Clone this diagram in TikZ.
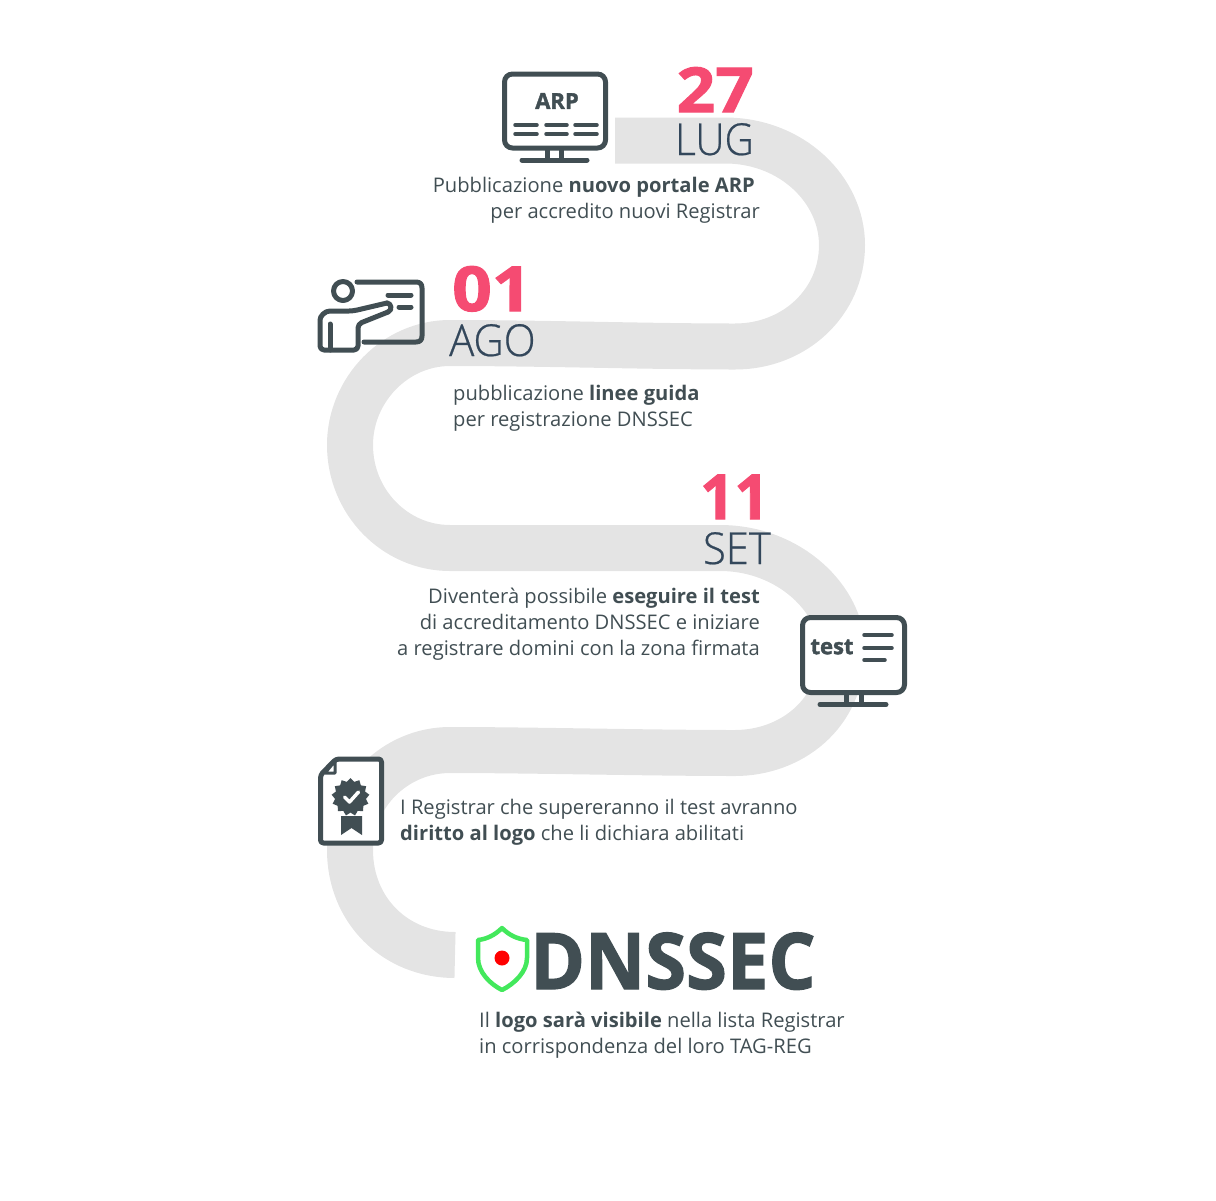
\documentclass[tikz,border=0pt]{standalone}
\usepackage{fontspec}
\usetikzlibrary{shapes.geometric}
\setmainfont{Open Sans}
\newfontfamily\lightfont[FakeBold=0.5]{Open Sans Light}
\newfontfamily\heavyfont[FakeBold=1.6]{Open Sans Bold}
\definecolor{roadgray}{HTML}{E4E4E4}
\definecolor{icongray}{HTML}{414E53}
\definecolor{datepink}{HTML}{F54B72}
\definecolor{monthblue}{HTML}{33475B}
\definecolor{shieldgreen}{HTML}{43E85C}
\tikzset{
    road/.style={draw=roadgray,line width=46pt},
    icon/.style={draw=icongray,line width=5pt,line cap=round,line join=round},
    icontext/.style={text=icongray,font=\heavyfont\fontsize{22}{22}\selectfont,inner sep=0pt},
    daynum/.style={text=datepink,font=\heavyfont\fontsize{62}{62}\selectfont,inner sep=0pt},
    month/.style={text=monthblue,font=\lightfont\fontsize{44}{44}\selectfont,inner sep=0pt},
    blurb/.style={text=icongray,font=\fontsize{20.15}{26}\selectfont,inner sep=0pt}
}
\begin{document}
\begin{tikzpicture}
        [x=1pt,y=-1pt]
        \useasboundingbox (0,0) rectangle (1216,1200);

        \draw[road] (615,140.5) -- (725,140.5)
            .. controls (792,140.5) and (842,190) .. (842,245)
            .. controls (842,302) and (795,346.5) .. (735,346.5)
            .. controls (650,346.5) and (540,343) .. (450,343)
            .. controls (395,343) and (350,390) .. (350,445)
            .. controls (350,502) and (395,548) .. (450,548)
            -- (720,548)
            .. controls (790,548) and (842,600) .. (842,650)
            .. controls (842,715) and (790,753) .. (735,753)
            .. controls (650,753) and (530,750) .. (450,750)
            .. controls (395,750) and (350,795) .. (350,850)
            .. controls (350,910) and (395,955) .. (455,955);

        % monitor ARP
        \draw[icon,fill=white,rounded corners=8pt] (504.5,74) rectangle (605.5,148);
        \draw[icon] (547,150) -- (547,159) (561,150) -- (561,159) (522,160) -- (587,160);
        \node[icontext] (arp) at (557,101) {ARP};
        \foreach \xa/\xb in {515/537,546/567,575/597}
            \draw[icon,line width=3.5pt] (\xa,125) -- (\xb,125) (\xa,134) -- (\xb,134);

        % presenter
        \draw[icon] (357,282) -- (416,282)
            .. controls (420,282) and (422,284) .. (422,288) -- (422,336)
            .. controls (422,340) and (420,342) .. (416,342) -- (364,342);
        \draw[icon] (343,291) circle (9.5);
        \draw[icon] (388,295) -- (411,295) (399,307) -- (411,307);
        \draw[icon,rounded corners=4pt] (387,303) -- (353,311) -- (334,311)
            .. controls (325,311) and (320,316) .. (320,324) -- (320,350) -- (358,350) -- (358,324) -- (388,312);
        \draw[icon] (387,303) .. controls (391,303) and (393,310) .. (388,312);
        \draw[icon] (330,324) -- (330,350);

        % monitor test
        \draw[icon,fill=white,rounded corners=8pt] (802.5,617.5) rectangle (904.5,692.5);
        \draw[icon] (846,695) -- (846,703) (861,695) -- (861,703) (820,704.5) -- (886,704.5);
        \node[icontext] (testlabel) at (832,647) {test};
        \draw[icon,line width=3.5pt] (864,635) -- (892,635) (864,648) -- (892,648) (864,660) -- (885,660);

        % certificate
        \draw[icon,fill=white,rounded corners=3pt] (336,759) -- (381.5,759) -- (381.5,843) -- (320.5,843) -- (320.5,775) -- cycle;
        \draw[icon,line width=3pt,fill=white] (335,761) -- (335,773) -- (325,773) -- cycle;
        \node[star,star points=13,star point ratio=1.22,fill=icongray,minimum size=38pt,inner sep=0pt] (seal) at (350.5,797) {};
        \draw[white,line width=3.5pt,line cap=round,line join=round] (344.5,797) -- (349.5,802) -- (358.5,792);
        \fill[icongray] (341,816) -- (362,816) -- (362,835) -- (351.5,828) -- (341,835) -- cycle;

        % shield
        \draw[draw=shieldgreen,line width=4.5pt,line join=round,fill=white] (502,928)
            .. controls (495,935) and (487,939) .. (478,940) -- (478,958)
            .. controls (478,972) and (490,984) .. (502,990)
            .. controls (514,984) and (527,972) .. (527,958) -- (527,940)
            .. controls (517,939) and (509,935) .. (502,928) -- cycle;
        \fill[red] (502,958) circle (7.5);
        \node[anchor=base west,text=icongray,font=\heavyfont\fontsize{78}{78}\selectfont,inner sep=0pt] (logo) at (530,989) {\scalebox{.95}[1]{DNSSEC}};

        \node[daynum,anchor=base east] (day27) at (754,112) {\scalebox{1.09}[1]{27}};
        \node[month,anchor=base east] (lug) at (754,155) {\scalebox{.92}[1]{LUG}};
        \node[daynum,anchor=base west] (day01) at (452,311) {\scalebox{1.12}[1]{01}};
        \node[month,anchor=base west] (ago) at (449,356) {\scalebox{.95}[1]{AGO}};
        \node[daynum,anchor=base east] (day11) at (769,519) {\scalebox{.97}[1]{11}};
        \node[month,anchor=base east] (set) at (771,564) {\scalebox{.95}[1]{SET}};

        \node[blurb,anchor=base east,align=right] (step1) at (760,218.5)
            {Pubblicazione \textbf{nuovo portale ARP}\kern5pt\\per accredito nuovi Registrar};
        \node[blurb,anchor=base west,align=left] (step2) at (453,426.5)
            {pubblicazione \textbf{linee guida}\\per registrazione DNSSEC};
        \node[blurb,anchor=base east,align=right] (step3) at (760,655.5)
            {Diventerà possibile \textbf{eseguire il test}\\di accreditamento DNSSEC e iniziare\\a registrare domini con la zona firmata};
        \node[blurb,anchor=base west,align=left] (step4) at (400,840.5)
            {I Registrar che supereranno il test avranno\\\textbf{diritto al logo} che li dichiara abilitati};
        \node[blurb,anchor=base west,align=left] (step5) at (479,1053.5)
            {Il \textbf{logo sarà visibile} nella lista Registrar\\in corrispondenza del loro TAG-REG};
    \end{tikzpicture}
\end{document}
